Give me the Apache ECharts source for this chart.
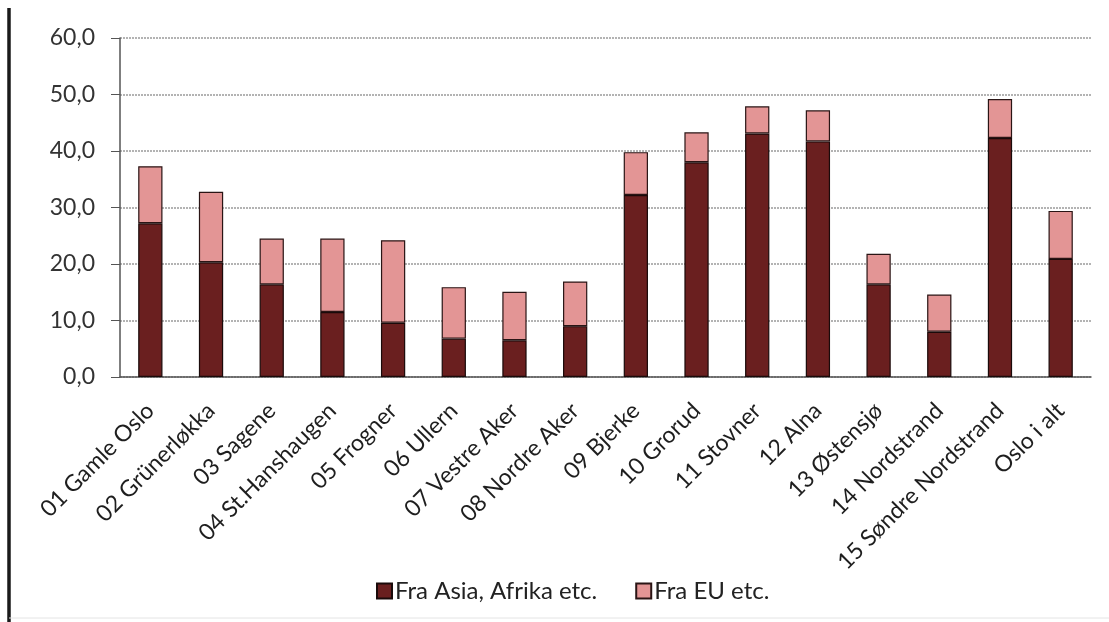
<!DOCTYPE html>
<html>
<head>
<meta charset="utf-8">
<script src="https://cdn.jsdelivr.net/npm/echarts@6/dist/echarts.min.js"></script>
<style>
  html, body { margin: 0; padding: 0; background: #fff; }
  #chart { width: 1109px; height: 622px; }
</style>
</head>
<body>
<div id="chart"></div>
<script>
// Bydeler i Oslo
const categories = [
  '01 Gamle Oslo', '02 Grünerløkka', '03 Sagene', '04 St.Hanshaugen',
  '05 Frogner', '06 Ullern', '07 Vestre Aker', '08 Nordre Aker',
  '09 Bjerke', '10 Grorud', '11 Stovner', '12 Alna',
  '13 Østensjø', '14 Nordstrand', '15 Søndre Nordstrand', 'Oslo i alt'
];

// Andel fra Asia, Afrika etc.
const asiaAfrika = [27.2, 20.3, 16.4, 11.5, 9.6, 6.8, 6.5, 9.0, 32.2, 38.0, 43.1, 41.7, 16.4, 8.0, 42.3, 20.9];
// Andel fra EU etc. (stables oppå)
const eu = [10.1, 12.5, 8.1, 13.0, 14.6, 9.1, 8.6, 7.9, 7.6, 5.3, 4.8, 5.5, 5.4, 6.6, 6.9, 8.5];

const seriesNames = ['Fra Asia, Afrika etc.', 'Fra EU etc.'];

const chart = echarts.init(document.getElementById('chart'), null, { renderer: 'canvas' });
const font = 'Lato, "Open Sans", sans-serif';

chart.setOption({
  animation: false,
  backgroundColor: '#ffffff',
  textStyle: { fontFamily: font },
  grid: { left: 120, right: 18, top: 38, bottom: 245, containLabel: false },
  legend: {
    top: 574,
    left: 371,
    itemWidth: 15,
    itemHeight: 15,
    itemGap: 38,
    icon: 'rect',
    textStyle: { fontFamily: font, fontSize: 24, color: '#222', padding: [0, 0, 0, -2] },
    data: seriesNames
  },
  xAxis: {
    type: 'category',
    data: categories,
    axisLine: { lineStyle: { color: '#555', width: 1.5 } },
    axisTick: { alignWithLabel: false, length: 7, lineStyle: { color: '#555' } },
    axisLabel: {
      rotate: 45,
      margin: 30,
      fontFamily: font,
      fontSize: 23,
      color: '#1e1e1e',
      interval: 0
    }
  },
  yAxis: {
    type: 'value',
    min: 0,
    max: 60,
    interval: 10,
    axisLine: { show: true, lineStyle: { color: '#555', width: 1.5 } },
    axisTick: { show: true, inside: false, length: 9, lineStyle: { color: '#555' } },
    axisLabel: {
      fontFamily: font,
      fontSize: 23,
      color: '#333',
      margin: 25,
      formatter: v => v.toFixed(1).replace('.', ',')
    },
    splitLine: { lineStyle: { color: '#9a9a9a', type: [2, 1], width: 1.5 } }
  },
  series: [
    {
      name: seriesNames[0],
      type: 'bar',
      stack: 'total',
      barWidth: '40%',
      data: asiaAfrika,
      itemStyle: { color: '#6a1f1f', borderColor: '#1a0a0a', borderWidth: 1.2 }
    },
    {
      name: seriesNames[1],
      type: 'bar',
      stack: 'total',
      barWidth: '40%',
      data: eu,
      itemStyle: { color: '#e39595', borderColor: '#2a1515', borderWidth: 1.2 }
    }
  ],
  graphic: [
    { type: 'line', shape: { x1: 9, y1: 8, x2: 9, y2: 622 }, style: { stroke: '#1a1a1a', lineWidth: 3.5 } },
    { type: 'line', shape: { x1: 9, y1: 618, x2: 1109, y2: 618 }, style: { stroke: '#e4e4e4', lineWidth: 1 } }
  ]
});
</script>
</body>
</html>
